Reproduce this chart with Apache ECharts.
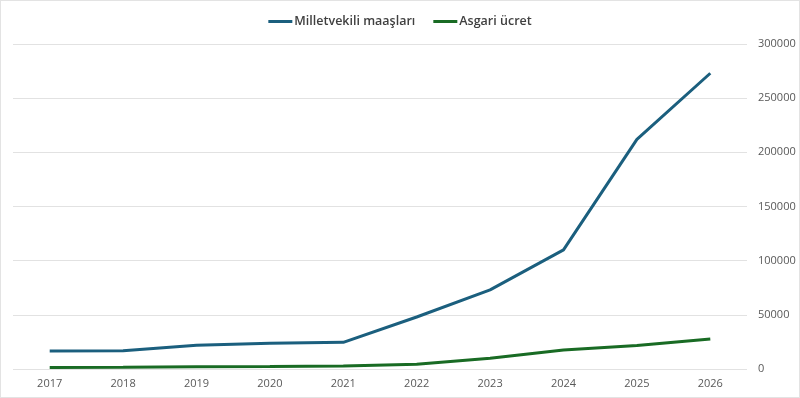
<!DOCTYPE html>
<html>
<head>
<meta charset="utf-8">
<script src="https://cdn.jsdelivr.net/npm/echarts@6/dist/echarts.min.js"></script>
<style>
  html, body { margin: 0; padding: 0; background: #fff; }
  #chart { width: 798px; height: 396px; border: 1px solid #e3e3e3; }
</style>
</head>
<body>
<div id="chart"></div>
<script>
const years = ["2017", "2018", "2019", "2020", "2021", "2022", "2023", "2024", "2025", "2026"];
const milletvekili = [16600, 16900, 21900, 23700, 24600, 48000, 73000, 110000, 212000, 273000];
const asgari = [1404, 1603, 2020, 2324, 2826, 4300, 9900, 17500, 21800, 27800];
const yTicks = [0, 50000, 100000, 150000, 200000, 250000, 300000];

const chart = echarts.init(document.getElementById("chart"));

chart.setOption({
  backgroundColor: "#fff",
  textStyle: { fontFamily: "Open Sans" },
  legend: {
    top: 9,
    left: "center",
    itemWidth: 24,
    itemHeight: 3,
    itemGap: 18,
    icon: "rect",
    textStyle: { color: "#404040", fontSize: 12.5, fontWeight: 600, fontFamily: "Open Sans", padding: [0, 0, 0, -3] },
    data: ["Milletvekili maaşları", "Asgari ücret"],
  },
  grid: {
    left: 12,
    right: 52,
    top: 43,
    bottom: 28,
    outerBoundsMode: "none",
  },
  xAxis: {
    type: "category",
    data: years,
    boundaryGap: true,
    axisLine: { show: false },
    axisTick: { show: false },
    axisLabel: { color: "#595959", fontSize: 11, margin: 9 },
  },
  yAxis: {
    type: "value",
    position: "right",
    min: yTicks[0],
    max: yTicks[yTicks.length - 1],
    interval: 50000,
    axisLine: { show: false },
    axisTick: { show: false },
    axisLabel: { color: "#595959", fontSize: 11, margin: 11, formatter: (v) => String(v) },
    splitLine: { lineStyle: { color: "#e2e2e2", width: 1 } },
  },
  series: [
    {
      name: "Milletvekili maaşları",
      type: "line",
      data: milletvekili,
      symbol: "none",
      lineStyle: { width: 3, color: "#1b5f7e" },
      itemStyle: { color: "#1b5f7e" },
    },
    {
      name: "Asgari ücret",
      type: "line",
      data: asgari,
      symbol: "none",
      lineStyle: { width: 3, color: "#196b24" },
      itemStyle: { color: "#196b24" },
    },
  ],
});
</script>
</body>
</html>
